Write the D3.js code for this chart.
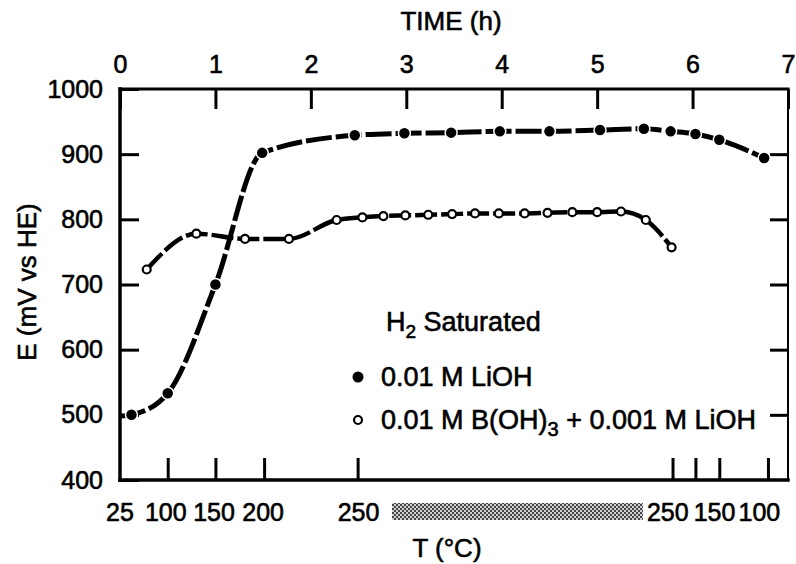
<!DOCTYPE html>
<html lang="en">
<head>
<meta charset="UTF-8">
<script src="https://d3js.org/d3.v7.min.js"></script>
<style>
  body { margin: 0; background: #fff; }
  svg text { font-family: "Liberation Sans", Arial, sans-serif; fill: #000; stroke: #000; stroke-width: 0.6px; }
</style>
<title>E vs time</title>
</head>
<body>
<div id="chart"></div>
<script>
// data: time in hours, potential in mV vs HE
const lioTime = [0.12, 0.50, 1.00, 1.49, 2.46, 2.98, 3.47, 3.98, 4.50, 5.03, 5.49, 5.77, 6.03, 6.28, 6.75];
const lioE    = [500, 533, 700, 902, 929, 932, 933, 935, 935, 937, 939, 935, 931, 922, 894];

const borTime = [0.28, 0.80, 1.31, 1.77, 2.27, 2.54, 2.76, 2.99, 3.23, 3.48, 3.72, 3.97, 4.24, 4.48, 4.74, 5.00, 5.25, 5.51, 5.78];
const borE    = [723, 778, 770, 770, 799, 803, 805, 806, 807, 808, 809, 809, 809, 810, 811, 811, 812, 799, 757];

const timeTicks = [0, 1, 2, 3, 4, 5, 6, 7];
const eTicks = [400, 500, 600, 700, 800, 900, 1000];

// temperature scale along the bottom (ticks sit at the times the temperature was reached)
const tempTickTimes = [0.5, 1.0, 1.51, 2.49, 5.79, 6.03, 6.28, 6.79];
const tempLabels = ["25", "100", "150", "200", "250", "250", "150", "100"];
const tempLabelTimes = [0, 0.48, 0.985, 1.5, 2.5, 5.74, 6.23, 6.70];
const holdRange = [2.85, 5.48];   // shaded isothermal hold at 250 °C

const width = 796, height = 564;
const m = { left: 120, right: 788, top: 89, bottom: 480 };

const svg = d3.select("#chart").append("svg")
  .attr("width", width).attr("height", height);

const x = d3.scaleLinear([0, 7], [m.left, m.right]);
const y = d3.scaleLinear([400, 1000], [m.bottom, m.top]);

// stipple pattern for the hold bar
const pat = svg.append("defs").append("pattern")
  .attr("id", "stipple").attr("width", 4).attr("height", 4)
  .attr("patternUnits", "userSpaceOnUse");
pat.append("rect").attr("width", 4).attr("height", 4).attr("fill", "#d0d0d0");
pat.append("rect").attr("x", 0).attr("y", 0).attr("width", 2).attr("height", 2).attr("fill", "#444");
pat.append("rect").attr("x", 2).attr("y", 2).attr("width", 2).attr("height", 2).attr("fill", "#444");

// axes
svg.append("g")
  .attr("transform", "translate(0," + m.top + ")")
  .call(d3.axisTop(x).tickValues(timeTicks).tickFormat(d3.format("d"))
    .tickSize(-20).tickPadding(16));

svg.append("g")
  .attr("transform", "translate(" + m.left + ",0)")
  .call(d3.axisLeft(y).tickValues(eTicks).tickFormat(d3.format("d"))
    .tickSize(-19).tickPadding(17));

svg.append("g")
  .attr("transform", "translate(" + m.right + ",0)")
  .call(d3.axisRight(y).tickValues([500, 600, 700, 800, 900]).tickFormat("").tickSize(-18));

svg.append("g")
  .attr("transform", "translate(0," + m.bottom + ")")
  .call(d3.axisBottom(x).tickValues(tempTickTimes).tickFormat("").tickSize(-22));

svg.selectAll(".domain").remove();
svg.selectAll(".tick line").attr("stroke", "#000").attr("stroke-width", 3);
svg.selectAll(".tick text").style("font-size", "25px").attr("fill", "#000");

// frame
const frame = svg.append("g").attr("stroke", "#000").attr("stroke-linecap", "square");
frame.append("line").attr("x1", m.left).attr("x2", m.right).attr("y1", m.top).attr("y2", m.top).attr("stroke-width", 3);
frame.append("line").attr("x1", m.left).attr("x2", m.right).attr("y1", m.bottom).attr("y2", m.bottom).attr("stroke-width", 3.5);
frame.append("line").attr("x1", m.left).attr("x2", m.left).attr("y1", m.top).attr("y2", m.bottom).attr("stroke-width", 3.5);
frame.append("line").attr("x1", m.right).attr("x2", m.right).attr("y1", m.top).attr("y2", m.bottom).attr("stroke-width", 2);

// temperature labels
svg.append("g").selectAll("text")
  .data(tempLabels)
  .join("text")
  .attr("x", (d, i) => x(tempLabelTimes[i]))
  .attr("y", 521)
  .attr("text-anchor", "middle")
  .style("font-size", "25px")
  .text(d => d);

svg.append("rect")
  .attr("x", x(holdRange[0])).attr("width", x(holdRange[1]) - x(holdRange[0]))
  .attr("y", 503).attr("height", 17)
  .attr("fill", "url(#stipple)");

// axis titles
svg.append("text").attr("x", 451).attr("y", 30).attr("text-anchor", "middle")
  .style("font-size", "26px").text("TIME (h)");
svg.append("text").attr("x", 447).attr("y", 557).attr("text-anchor", "middle")
  .style("font-size", "26px").text("T (°C)");
svg.append("text").attr("transform", "translate(36,282) rotate(-90)").attr("text-anchor", "middle")
  .style("font-size", "26px").text("E (mV vs HE)");

// curves
const line = d3.line()
  .x(d => x(d[0]))
  .y(d => y(d[1]))
  .curve(d3.curveMonotoneX);

const lioData = lioTime.map((t, i) => [t, lioE[i]]);
const borData = borTime.map((t, i) => [t, borE[i]]);

svg.append("path")
  .datum([[0, 498]].concat(lioData))
  .attr("d", line)
  .attr("fill", "none").attr("stroke", "#000")
  .attr("stroke-width", 5).attr("stroke-dasharray", "26,4");

svg.append("path")
  .datum(borData)
  .attr("d", line)
  .attr("fill", "none").attr("stroke", "#000")
  .attr("stroke-width", 4.5).attr("stroke-dasharray", "22,4");

svg.append("g").selectAll("circle")
  .data(lioData)
  .join("circle")
  .attr("cx", d => x(d[0])).attr("cy", d => y(d[1]))
  .attr("r", 6).attr("fill", "#000")
  .attr("stroke", "#fff").attr("stroke-width", 1.5);

svg.append("g").selectAll("circle")
  .data(borData)
  .join("circle")
  .attr("cx", d => x(d[0])).attr("cy", d => y(d[1]))
  .attr("r", 4).attr("fill", "#fff")
  .attr("stroke", "#000").attr("stroke-width", 2.2);

// legend
const lg = svg.append("g");
const h2 = lg.append("text").attr("x", 386).attr("y", 331).style("font-size", "27px");
h2.append("tspan").text("H");
h2.append("tspan").attr("dy", 7).style("font-size", "19px").text("2");
h2.append("tspan").attr("dy", -7).text(" Saturated");

lg.append("circle").attr("cx", 358).attr("cy", 377).attr("r", 5.5).attr("fill", "#000");
lg.append("text").attr("x", 381).attr("y", 386).style("font-size", "27px").text("0.01 M LiOH");

lg.append("circle").attr("cx", 358).attr("cy", 420).attr("r", 4).attr("fill", "#fff")
  .attr("stroke", "#000").attr("stroke-width", 2.2);
const b = lg.append("text").attr("x", 381).attr("y", 429).style("font-size", "27px");
b.append("tspan").text("0.01 M B(OH)");
b.append("tspan").attr("dy", 7).style("font-size", "20px").text("3");
b.append("tspan").attr("dy", -7).text(" + 0.001 M LiOH");
</script>
</body>
</html>
